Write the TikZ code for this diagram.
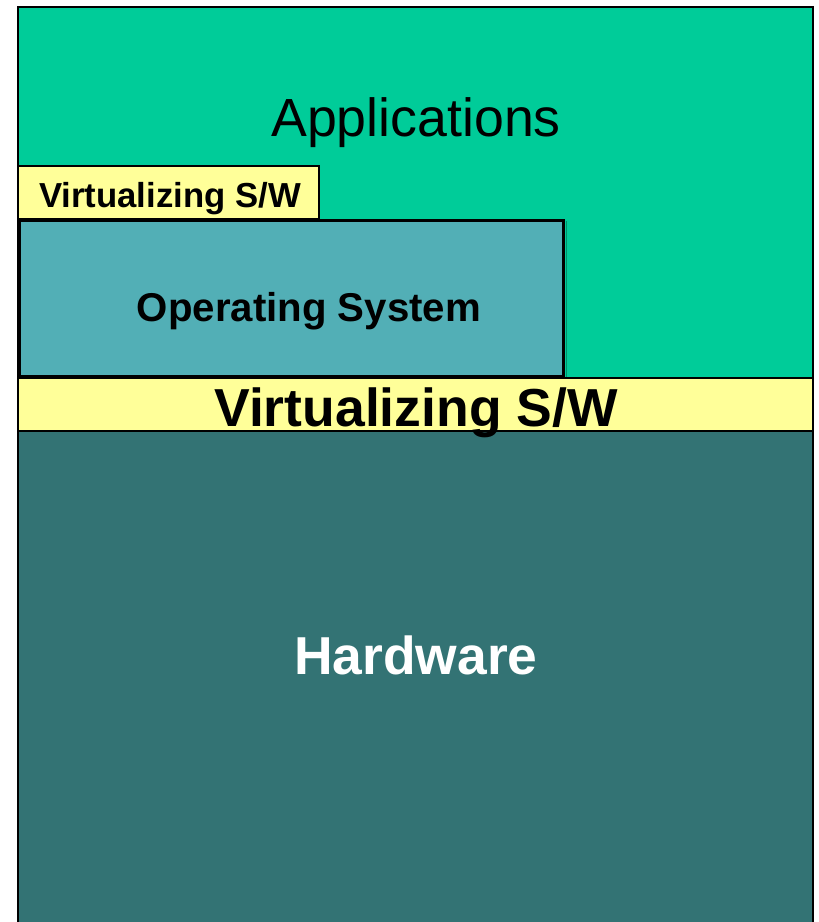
\documentclass[tikz,border=0pt]{standalone}
\usepackage{fontspec}
\setmainfont{Liberation Sans}
\definecolor{appgreen}{HTML}{00CC99}
\definecolor{vsw}{HTML}{FFFF99}
\definecolor{osblue}{HTML}{52AFB6}
\definecolor{hwteal}{HTML}{337374}
\begin{document}
\begin{tikzpicture}[x=1pt,y=-1pt,
  layer/.style={draw=black,line width=2pt},
  lbl/.style={anchor=base,inner sep=0pt,text=black}]
\useasboundingbox (0,0) rectangle (819,922);
% boxes
\path[layer,fill=appgreen] (18,7) rectangle (813,378) coordinate (appsbr);
\path[layer,fill=hwteal] (18,431) rectangle (813,930);
\path[layer,fill=vsw] (18,378) rectangle (813,431);
\draw[line width=1pt,color=appgreen!70!black] (566,221) -- (566,377);
\path[draw=black,line width=3pt,fill=osblue] (19,220) rectangle (563,376);
\path[layer,fill=vsw] (18,166) rectangle (319,219);
% labels
\node[lbl,font=\fontsize{53.7}{60}\selectfont] (apps) at (416,136) {Applications};
\node[lbl,font=\bfseries\fontsize{34.7}{40}\selectfont] (vswsmall) at (170,207) {Virtualizing S/W};
\node[lbl,font=\bfseries\fontsize{40.2}{46}\selectfont] (os) at (309,321) {Operating System};
\node[lbl,font=\bfseries\fontsize{53.5}{60}\selectfont] (vswbig) at (416,426) {Virtualizing S/W};
\node[lbl,text=white,font=\bfseries\fontsize{53.4}{60}\selectfont] (hw) at (416,674) {Hardware};
\end{tikzpicture}
\end{document}
